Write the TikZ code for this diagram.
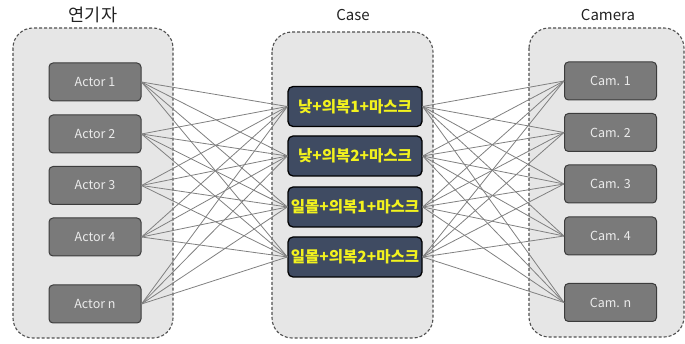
\documentclass[tikz,border=0pt]{standalone}
\usepackage{fontspec}
\setmainfont{Noto Sans CJK KR}
\definecolor{contfill}{HTML}{E6E6E6}
\definecolor{contdraw}{HTML}{505050}
\definecolor{actfill}{HTML}{7A7A7A}
\definecolor{actdraw}{HTML}{3C3C3C}
\definecolor{acttext}{HTML}{EBEBEB}
\definecolor{casefill}{HTML}{3F4B62}
\definecolor{casetext}{HTML}{F2F21E}
\definecolor{linkcol}{HTML}{808080}
\definecolor{titlecol}{HTML}{222222}
\begin{document}
\begin{tikzpicture}[x=1pt,y=-1pt,
  container/.style={draw=contdraw, fill=contfill, dash pattern=on 3pt off 2pt, rounded corners=20pt, line width=1.1pt},
  actbox/.style={draw=actdraw, fill=actfill, rounded corners=4pt, minimum width=92pt, minimum height=38pt, text=acttext, font=\fontsize{12.5}{14}\selectfont, line width=1pt, inner sep=0pt},
  casebox/.style={draw=black, fill=casefill, rounded corners=5pt, minimum width=134pt, minimum height=40pt, text=casetext, font=\fontsize{15.5}{17}\selectfont\bfseries, line width=1.3pt, inner sep=0pt},
  title/.style={text=titlecol, font=\fontsize{15}{17}\selectfont},
  link/.style={draw=linkcol, line width=0.8pt}
]
\useasboundingbox (0,0) rectangle (685,344);
% containers
\draw[container] (13,28) rectangle (173,338);
\draw[container] (272,32) rectangle (433,338);
\draw[container] (529,28) rectangle (684,337);
% titles
\node[title, font=\fontsize{17.5}{19}\selectfont] (t1) at (93,15) {연기자};
\node[title] (t2) at (353,15) {Case};
\node[title] (t3) at (608,15) {Camera};
% actors
\node[actbox] (a1) at (95,82) {Actor 1};
\node[actbox] (a2) at (95,134) {Actor 2};
\node[actbox] (a3) at (95,185.5) {Actor 3};
\node[actbox] (a4) at (95,237) {Actor 4};
\node[actbox] (a5) at (95,304) {Actor n};
% cases
\node[casebox] (c1) at (355,106.5) {낮+의복1+마스크};
\node[casebox] (c2) at (355,156) {낮+의복2+마스크};
\node[casebox] (c3) at (355,207) {일몰+의복1+마스크};
\node[casebox] (c4) at (355,257) {일몰+의복2+마스크};
% cameras
\node[actbox] (m1) at (610.5,81) {Cam. 1};
\node[actbox] (m2) at (610.5,132.5) {Cam. 2};
\node[actbox] (m3) at (610.5,184) {Cam. 3};
\node[actbox] (m4) at (610.5,236) {Cam. 4};
\node[actbox] (m5) at (610.5,302.5) {Cam. n};
% links
\foreach \a in {1,...,5}{
  \foreach \c in {1,...,4}{
    \draw[link] (a\a.east) -- (c\c.west);
    \draw[link] (c\c.east) -- (m\a.west);
  }
}
\end{tikzpicture}
\end{document}
